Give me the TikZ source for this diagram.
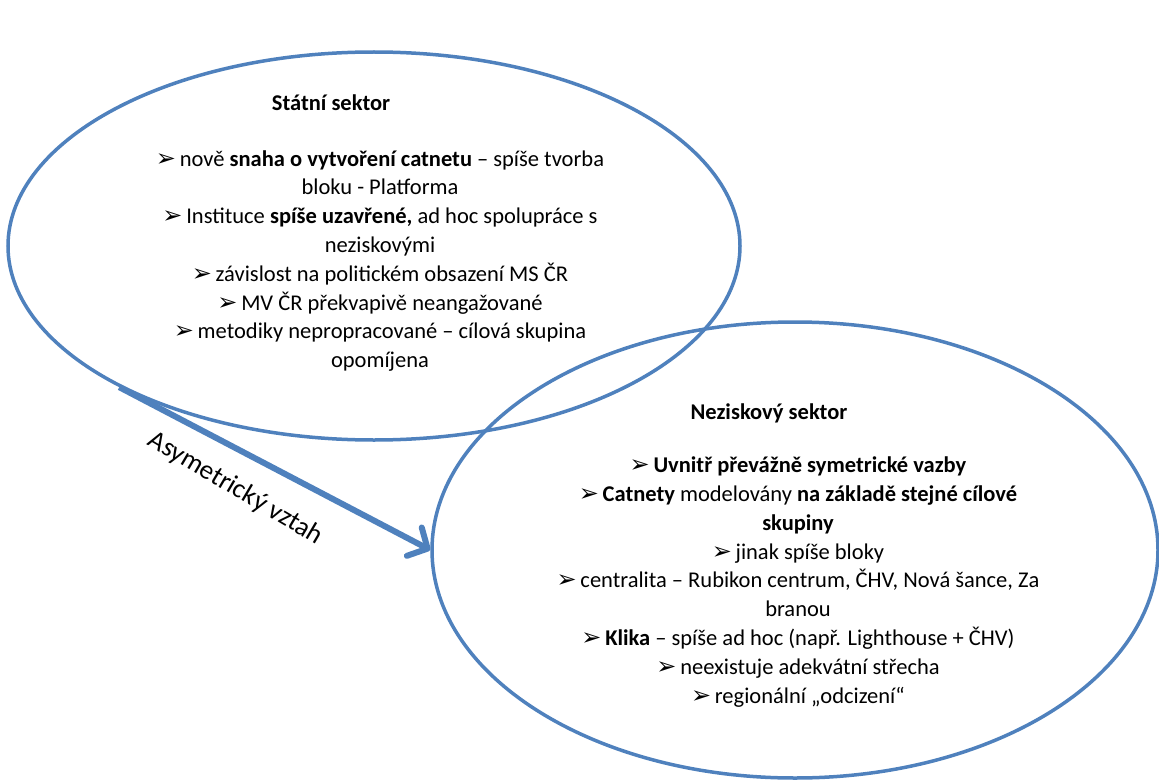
\documentclass[tikz,border=0pt]{standalone}
\usepackage{fontspec}
\setmainfont{Carlito}
\newfontfamily\dingfont{DejaVu Sans}
\usetikzlibrary{arrows.meta, positioning, shapes.geometric}
\definecolor{sectorblue}{HTML}{4F81BD}
\newcommand{\itm}{{\dingfont\fontsize{24}{24}\selectfont ➢}\,}

\begin{document}
\begin{tikzpicture}[x=1pt, y=-1pt,
      sector/.style={draw=sectorblue, line width=3.5pt, ellipse, inner sep=0pt},
      title/.style={font=\fontsize{22.5}{26}\selectfont\bfseries},
      items/.style={align=center, font=\fontsize{22.5}{28.8}\selectfont},
      arrow/.style={-{Straight Barb[length=15pt, width=32pt, round]}, line width=6pt, draw=sectorblue},
      label/.style={font=\fontsize{27}{30}\selectfont}
    ]
    \useasboundingbox (0,0) rectangle (1159,781);
    \node[sector, minimum width=732pt, minimum height=388pt] (statni) at (374,246) {};
    \node[sector, minimum width=726pt, minimum height=456pt] (nezisk) at (795,550) {};
    \node[title] (statnititle) at (331,103) {Státní sektor};
    \node[items] (statnilist) at (380,261) {\itm nově \textbf{snaha o vytvoření catnetu} – spíše tvorba\\
      bloku - Platforma\\
      \itm Instituce \textbf{spíše uzavřené,} ad hoc spolupráce s\\
      neziskovými\\
      \itm závislost na politickém obsazení MS ČR\\
      \itm MV ČR překvapivě neangažované\\
      \itm metodiky nepropracované – cílová skupina\\
      opomíjena};
    \node[title] (neziskt) at (769,413) {Neziskový sektor};
    \node[items] (nezisklist) at (798,582) {\itm \textbf{Uvnitř převážně symetrické vazby}\\
      \itm \textbf{Catnety} modelovány \textbf{na základě stejné cílové}\\
      \textbf{skupiny}\\
      \itm jinak spíše bloky\\
      \itm centralita – Rubikon centrum, ČHV, Nová šance, Za\\
      branou\\
      \itm \textbf{Klika} – spíše ad hoc (např. Lighthouse + ČHV)\\
      \itm neexistuje adekvátní střecha\\
      \itm regionální „odcizení“};
    \draw[arrow] (statni.209) -- node[label, sloped, rotate=-3, below=18pt, pos=0.43] {Asymetrický vztah} (nezisk.west);
  \end{tikzpicture}
\end{document}
